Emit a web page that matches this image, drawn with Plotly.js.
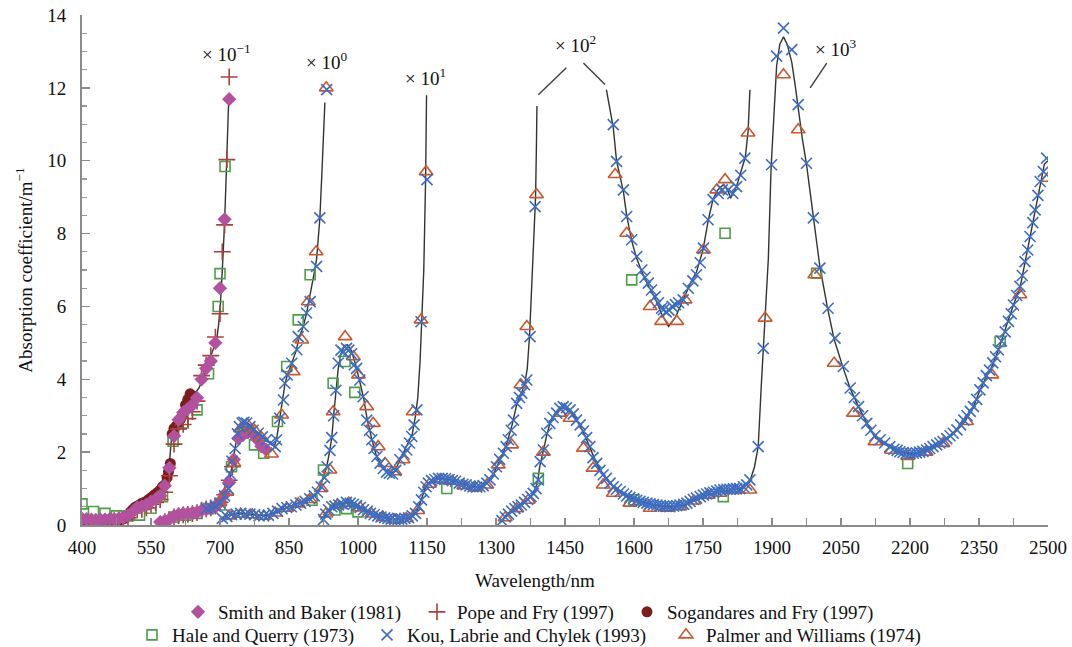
<!DOCTYPE html>
<html><head><meta charset="utf-8">
<script src="https://cdn.plot.ly/plotly-3.0.1.min.js"></script>
<style>html,body{margin:0;padding:0;background:#fff}#chart{width:1072px;height:647px}</style>
</head><body><div id="chart"></div>
<script>
// ---- black reference curve, one piece per scale factor ----
const segA_nm  = [400,420,440,460,480,500,510,520,530,540,550,560,570,580,585,588,591,594,598,605,615,625,635,645,655,665,675,685,693,697,701,705,710,714,717,719];
const segA_val = [0.1,0.08,0.07,0.1,0.15,0.35,0.5,0.6,0.65,0.72,0.8,0.9,1.0,1.12,1.2,1.45,1.85,2.3,2.65,2.8,3.0,3.2,3.42,3.6,3.78,4.1,4.45,4.8,5.1,5.5,6.1,7.0,8.3,9.8,10.9,11.7];
const segB_nm  = [567,580,590,600,620,640,660,680,700,710,718,722,727,733,738,745,752,760,770,780,790,800,810,818,823,830,836,841,846,856,866,872,881,888,896,903,910,917,922,926,928];
const segB_val = [0.05,0.1,0.15,0.2,0.27,0.33,0.4,0.47,0.6,0.8,1.0,1.3,1.7,2.1,2.5,2.75,2.82,2.8,2.7,2.55,2.42,2.33,2.24,2.16,2.35,2.9,3.4,3.85,4.1,4.45,4.8,5.15,5.45,5.8,6.3,6.8,7.3,8.4,9.8,11.0,11.6];
const segC_nm  = [704,720,740,760,780,800,820,840,860,880,900,915,925,932,938,943,947,952,957,963,970,977,985,995,1005,1012,1020,1030,1040,1050,1060,1070,1080,1090,1100,1110,1118,1125,1130,1135,1138,1143,1147,1149];
const segC_val = [0.2,0.28,0.32,0.3,0.27,0.26,0.35,0.46,0.55,0.65,0.75,0.95,1.3,1.6,2.0,2.4,3.0,3.6,4.3,4.7,4.9,4.95,4.8,4.4,3.9,3.5,2.9,2.35,1.9,1.65,1.5,1.42,1.48,1.75,2.0,2.25,2.5,3.0,3.5,4.5,5.6,7.0,9.5,11.8];
const segD1_nm  = [921,930,940,950,965,980,995,1010,1030,1050,1070,1090,1110,1125,1135,1145,1155,1170,1185,1200,1220,1240,1260,1275,1290,1300,1315,1325,1335,1345,1355,1363,1368,1373,1378,1383,1386,1388,1389];
const segD1_val = [0.08,0.3,0.47,0.55,0.6,0.62,0.55,0.45,0.32,0.24,0.17,0.16,0.2,0.3,0.6,0.98,1.15,1.25,1.28,1.25,1.15,1.08,1.04,1.1,1.28,1.55,1.95,2.3,2.75,3.3,3.6,3.9,4.3,5.2,6.5,8.0,9.0,10.5,11.5];
const segD2_nm  = [1540,1547,1555,1562,1570,1577,1584,1595,1605,1617,1630,1645,1660,1675,1690,1700,1710,1725,1736,1750,1762,1772,1782,1795,1805,1810,1823,1835,1842,1848,1852];
const segD2_val = [11.95,11.5,10.9,10.0,9.5,9.15,8.5,7.8,7.35,6.95,6.6,6.25,5.8,5.45,5.7,6.0,6.3,6.7,6.95,7.55,8.4,8.95,9.2,9.35,9.15,8.97,9.3,9.8,10.1,10.8,11.95];
const segE_nm  = [1309,1320,1335,1350,1365,1380,1390,1395,1400,1405,1410,1417,1425,1435,1445,1455,1465,1475,1490,1505,1520,1540,1555,1570,1600,1635,1665,1690,1715,1750,1790,1830,1852,1862,1870,1877,1881,1885,1892,1898,1905,1910,1917,1925,1933,1943,1950,1957,1966,1975,1990,2004,2020,2035,2055,2070,2088,2106,2124,2140,2156,2178,2195,2207,2220,2236,2255,2272,2290,2302,2320,2338,2352,2365,2378,2392,2405,2414,2425,2439,2450,2461,2472,2483,2492,2500];
const segE_val = [0.05,0.25,0.42,0.55,0.68,0.85,1.15,1.6,1.85,2.15,2.45,2.78,2.98,3.12,3.22,3.2,3.08,2.9,2.55,2.1,1.65,1.25,1.05,0.9,0.72,0.57,0.5,0.5,0.58,0.8,0.93,1.0,1.2,1.6,2.15,3.9,4.9,5.7,7.3,9.8,11.5,12.6,13.2,13.4,13.2,12.7,12.1,11.4,10.6,9.9,8.45,7.1,6.0,5.1,4.3,3.75,3.25,2.8,2.4,2.25,2.15,2.02,1.97,1.95,1.98,2.05,2.17,2.3,2.45,2.6,2.85,3.25,3.7,4.05,4.35,4.8,5.3,5.6,6.05,6.5,7.2,7.9,8.65,9.4,9.9,10.0];

// ---- measured series (all scale pieces together) ----
const smithNm  = [400,410,420,430,440,450,460,470,480,490,500,510,520,530,540,550,560,570,580,590,600,610,620,630,640,650,660,670,680,690,700,710,720,
                  570,580,590,600,610,620,630,640,650,660,670,680,690,700,710,720,730,740,750,760,770,780,790,800];
const smithVal = [0.17,0.16,0.15,0.14,0.15,0.15,0.16,0.16,0.18,0.2,0.26,0.36,0.48,0.51,0.56,0.64,0.71,0.8,1.08,1.57,2.44,2.89,3.09,3.19,3.29,3.49,4.0,4.3,4.5,5.0,6.5,8.39,11.69,
                  0.08,0.11,0.16,0.24,0.29,0.31,0.32,0.33,0.35,0.4,0.43,0.45,0.5,0.65,0.84,1.17,1.8,2.38,2.47,2.55,2.51,2.36,2.16,2.07];
const popeNm   = [400,410,420,430,440,450,460,470,480,490,500,510,520,530,540,550,560,570,580,590,600,610,620,630,640,650,660,670,680,690,700,705,710,715,720,
                  580,590,600,610,620,630,640,650,660,670,680,690,700,710,720,727];
const popeVal  = [0.07,0.05,0.05,0.05,0.06,0.09,0.1,0.11,0.13,0.15,0.2,0.33,0.41,0.43,0.47,0.57,0.62,0.7,0.9,1.35,2.22,2.64,2.76,2.92,3.11,3.4,4.1,4.39,4.65,5.16,5.8,7.5,8.24,10.03,12.3,
                  0.09,0.14,0.22,0.26,0.28,0.29,0.31,0.34,0.41,0.44,0.47,0.52,0.62,0.83,1.23,1.6];
const sogNm    = [400,405,410,415,420,425,430,435,440,445,450,455,460,465,470,475,480,485,490,495,500,505,510,515,520,525,530,535,540,545,550,555,560,565,570,575,580,585,588,592,596,600,605,610,615,620,625,630,635,640];
const sogVal   = [0.1,0.08,0.07,0.06,0.06,0.05,0.05,0.06,0.06,0.07,0.08,0.09,0.1,0.1,0.11,0.12,0.14,0.15,0.17,0.2,0.26,0.35,0.42,0.48,0.52,0.55,0.6,0.62,0.65,0.7,0.75,0.8,0.85,0.9,0.96,1.05,1.1,1.3,1.46,1.69,2.5,2.65,2.72,2.8,2.93,3.07,3.3,3.45,3.6,3.55];
const haleNm   = [400,425,450,475,500,525,550,575,598,620,650,675,696,700,711,
                  600,625,650,675,700,725,750,775,795,825,845,870,896,
                  900,925,946,972,993,
                  950,975,1000,1193,1595,1798,
                  1392,1600,1794,1997,2195,2396];
const haleVal  = [0.58,0.37,0.32,0.25,0.25,0.27,0.46,0.78,2.3,2.8,3.16,4.15,6.0,6.9,9.84,
                  0.22,0.27,0.32,0.45,0.55,1.6,2.52,2.2,1.97,2.84,4.35,5.63,6.87,
                  0.68,1.51,3.89,4.49,3.64,
                  0.41,0.45,0.36,1.0,6.73,8.01,
                  1.28,0.69,0.78,6.91,1.69,5.04];
const kouNm    = [670,680,690,700,710,718,722,726,733,738,742,748,752,758,765,772,783,792,801,810,820,823,830,838,841,846,856,867,870,881,888,896,910,917,932,
                  705,715,725,735,745,755,765,775,785,795,805,815,825,835,845,855,865,875,885,895,905,912,920,927,933,939,943,947,952,957,963,968,975,980,986,992,997,1004,1011,1019,1025,1030,1035,1041,1048,1055,1062,1068,1075,1082,1091,1100,1106,1112,1117,1122,1128,1137,1150,
                  925,930,936,943,950,958,966,975,983,990,997,1005,1012,1020,1027,1035,1043,1050,1058,1065,1072,1080,1088,1095,1102,1110,1118,1125,1132,1138,1143,1148,1153,1160,1167,1175,1183,1190,1198,1205,1212,1220,1228,1235,1243,1250,1258,1265,1272,1280,1287,1294,1301,1308,1316,1322,1327,1333,1338,1345,1351,1356,1362,1367,1374,1385,
                  1555,1562,1577,1584,1595,1606,1617,1624,1631,1638,1646,1653,1660,1664,1670,1676,1683,1690,1697,1707,1718,1728,1736,1744,1751,1761,1772,1783,1792,1805,1815,1823,1832,1841,
                  1313,1320,1327,1334,1341,1348,1355,1362,1369,1376,1381,1387,1392,1396,1403,1410,1417,1424,1432,1439,1446,1453,1461,1468,1475,1483,1490,1497,1504,1511,1519,1526,1533,1540,1548,1555,1562,1570,1577,1584,1591,1599,1606,1613,1620,1628,1635,1642,1650,1657,1664,1671,1678,1686,1693,1700,1708,1715,1722,1729,1736,1744,1751,1758,1765,1773,1780,1787,1795,1802,1809,1816,1823,1830,1838,1845,1852,1870,1881,1899,1910,1925,1943,1957,1975,1990,2004,2022,2037,2055,2070,2079,2088,2097,2106,2115,2124,2135,2145,2156,2165,2172,2178,2185,2192,2200,2207,2214,2221,2228,2236,2243,2250,2258,2265,2272,2280,2287,2294,2302,2310,2317,2324,2331,2338,2345,2352,2359,2366,2373,2380,2386,2392,2399,2407,2414,2420,2425,2432,2439,2444,2450,2456,2461,2467,2472,2478,2483,2490,2497];
const kouVal   = [0.45,0.48,0.52,0.6,0.8,1.0,1.4,1.75,2.1,2.5,2.7,2.8,2.82,2.8,2.7,2.6,2.52,2.42,2.34,2.25,2.15,2.34,2.93,3.43,3.89,4.12,4.44,4.81,5.17,5.45,5.82,6.13,7.1,8.43,11.95,
                  0.18,0.23,0.28,0.3,0.32,0.3,0.3,0.28,0.25,0.25,0.27,0.32,0.38,0.45,0.48,0.5,0.55,0.6,0.65,0.72,0.8,0.9,1.05,1.3,1.6,2.05,2.4,3.0,3.7,4.44,4.8,4.75,4.85,4.8,4.7,4.4,4.3,3.98,3.52,2.88,2.6,2.34,2.1,1.88,1.7,1.55,1.45,1.42,1.4,1.5,1.79,1.95,2.06,2.25,2.43,2.75,3.16,5.58,9.48,
                  0.15,0.3,0.42,0.5,0.52,0.55,0.58,0.62,0.6,0.57,0.53,0.48,0.42,0.38,0.32,0.28,0.25,0.22,0.2,0.18,0.16,0.15,0.16,0.16,0.18,0.2,0.25,0.32,0.5,0.69,0.9,1.05,1.15,1.22,1.25,1.28,1.28,1.27,1.25,1.22,1.2,1.15,1.12,1.1,1.07,1.05,1.04,1.05,1.08,1.15,1.24,1.4,1.6,1.8,1.97,2.15,2.34,2.6,2.88,3.34,3.5,3.62,3.85,3.98,5.17,8.74,
                  10.99,9.98,9.2,8.47,7.83,7.37,7.0,6.8,6.64,6.45,6.27,6.1,5.95,5.91,5.85,5.9,6.0,6.05,6.1,6.18,6.5,6.7,6.87,7.2,7.6,8.38,8.93,9.1,9.2,9.2,9.1,9.29,9.6,10.07,
                  0.12,0.22,0.3,0.38,0.45,0.5,0.55,0.62,0.7,0.78,0.87,1.0,1.24,1.74,2.06,2.52,2.79,2.95,3.07,3.2,3.25,3.22,3.16,3.05,2.88,2.75,2.58,2.4,2.15,1.85,1.69,1.5,1.38,1.28,1.15,1.05,0.98,0.92,0.85,0.8,0.76,0.72,0.68,0.65,0.62,0.6,0.58,0.56,0.55,0.53,0.52,0.51,0.5,0.52,0.53,0.55,0.57,0.6,0.65,0.7,0.74,0.78,0.82,0.85,0.88,0.9,0.93,0.96,0.97,0.98,0.98,0.99,1.0,1.0,1.05,1.1,1.24,2.15,4.85,9.89,12.87,13.64,13.05,11.54,9.93,8.43,7.05,5.95,5.13,4.35,3.76,3.5,3.25,3.0,2.79,2.6,2.45,2.34,2.25,2.15,2.08,2.05,2.01,1.99,1.97,1.96,1.97,1.98,2.0,2.02,2.06,2.1,2.15,2.2,2.25,2.29,2.37,2.45,2.52,2.61,2.75,2.88,3.0,3.12,3.25,3.45,3.71,3.9,4.1,4.25,4.45,4.62,4.81,5.05,5.3,5.59,5.8,6.04,6.3,6.55,6.85,7.23,7.55,7.92,8.3,8.65,9.05,9.43,9.7,10.07];
const palmerNm  = [700,715,730,745,760,775,790,812,834,859,878,892,909,931,
                   720,745,770,795,820,845,870,895,920,939,946,972,990,1001,1019,1033,1044,1059,1080,1098,1120,1137,1148,
                   930,955,980,1005,1030,1055,1080,1105,1130,1155,1180,1205,1230,1255,1280,1305,1334,1354,1367,1388,
                   1559,1584,1635,1660,1693,1711,1751,1780,1798,1848,
                   1320,1345,1370,1403,1439,1461,1490,1511,1533,1555,1591,1635,1671,1700,1730,1760,1787,1820,1852,1885,1925,1957,1993,2035,2077,2124,2160,2195,2235,2272,2323,2378,2439,2500];
const palmerVal = [0.62,0.9,1.7,2.65,2.75,2.6,2.4,1.95,3.02,4.21,5.08,6.13,7.5,12.0,
                   0.25,0.3,0.28,0.24,0.33,0.46,0.58,0.7,1.0,1.51,3.11,5.17,4.62,4.12,3.25,2.79,2.15,1.69,1.46,1.79,3.11,5.63,9.7,
                   0.3,0.55,0.6,0.47,0.3,0.2,0.14,0.18,0.4,1.12,1.25,1.2,1.08,1.02,1.1,1.65,2.2,3.85,5.45,9.07,
                   9.62,8.01,6.0,5.59,5.59,6.18,7.55,9.2,9.48,10.76,
                   0.2,0.45,0.68,2.0,3.07,2.93,2.11,1.56,1.1,0.87,0.6,0.46,0.46,0.5,0.66,0.82,0.87,0.95,0.96,5.68,12.36,10.85,6.87,4.44,3.07,2.29,2.05,1.88,2.0,2.24,2.84,4.12,6.32,9.52];

// ---- scale-factor labels ----
const scaleLabels = ['× 10<sup>−1</sup>','× 10<sup>0</sup>','× 10<sup>1</sup>','× 10<sup>2</sup>','× 10<sup>3</sup>'];
const scaleNm  = [714,932,1146,1473,2039];
const scaleVal = [12.95,12.75,12.3,13.2,13.1];

const FONT = '"Liberation Serif", "Times New Roman", serif';
const FS = 19;
const lineStyle = {color:'#333333', width:1.4};
const segs = [[segA_nm,segA_val],[segB_nm,segB_val],[segC_nm,segC_val],[segD1_nm,segD1_val],[segD2_nm,segD2_val],[segE_nm,segE_val]];
const traces = segs.map(s => ({x:s[0], y:s[1], type:'scatter', mode:'lines', line:lineStyle, showlegend:false, hoverinfo:'skip'}));

function mk(name, xs, ys, symbol, color, size, legend, filled){
  return {x:xs, y:ys, type:'scatter', mode:'markers', name:name, legend:legend,
    marker:{symbol:symbol, size:size, color:color, line:{color:color, width: filled?0:1.6}}};
}
traces.push(mk('Sogandares and Fry (1997)', sogNm, sogVal, 'circle', '#7a1d1f', 11, 'legend3', true));
traces.push(mk('Hale and Querry (1973)', haleNm, haleVal, 'square-open', '#4e9e47', 10, 'legend4', false));
traces.push(mk('Pope and Fry (1997)', popeNm, popeVal, 'cross-thin-open', '#a8403c', 12, 'legend2', false));
traces.push(mk('Smith and Baker (1981)', smithNm, smithVal, 'diamond', '#b2529f', 11, 'legend', true));
traces.push(mk('Palmer and Williams (1974)', palmerNm, palmerVal, 'triangle-up-open', '#c9582e', 12, 'legend6', false));
traces.push(mk('Kou, Labrie and Chylek (1993)', kouNm, kouVal, 'x-thin-open', '#3d6dc0', 11, 'legend5', false));

const annotations = scaleLabels.map((t,i)=>({x:scaleNm[i], y:scaleVal[i], xref:'x', yref:'y', text:t, showarrow:false, font:{family:FONT, size:FS, color:'#111'}}));
annotations.push({x:0.469, y:-0.108, xref:'paper', yref:'paper', xanchor:'center', yanchor:'middle', text:'Wavelength/nm', showarrow:false, font:{family:FONT, size:FS, color:'#111'}});

const shapes = [
  {type:'line', xref:'x', yref:'y', x0:1392, y0:11.81, x1:1453, y1:12.55, line:{color:'#444', width:1.5}},
  {type:'line', xref:'x', yref:'y', x0:1490, y0:12.68, x1:1537, y1:12.09, line:{color:'#444', width:1.5}},
  {type:'line', xref:'x', yref:'y', x0:2019, y0:12.68, x1:1983, y1:12.0, line:{color:'#444', width:1.5}}
];

function leg(textStartPx, rowY){
  return {orientation:'h', x:(textStartPx-40-82)/966, xanchor:'left', y:rowY, yanchor:'middle',
          font:{family:FONT, size:FS, color:'#111'}, bgcolor:'rgba(0,0,0,0)', borderwidth:0};
}
const ROW1 = -0.1706, ROW2 = -0.2157;

const layout = {
  width:1072, height:647, paper_bgcolor:'#fff', plot_bgcolor:'#fff',
  margin:{l:82, r:24, t:15, b:122, autoexpand:false},
  font:{family:FONT, size:FS, color:'#111'},
  xaxis:{range:[400,2500], tick0:400, dtick:150, showgrid:false, zeroline:false,
    showline:true, linecolor:'#8a8a8a', linewidth:2, ticks:'inside', ticklen:7, tickcolor:'#8a8a8a', tickwidth:1.5,
    ticklabelstandoff:4, tickfont:{family:FONT, size:FS, color:'#111'},
    minor:{dtick:75, tick0:400, ticks:'inside', ticklen:7, tickcolor:'#8a8a8a', tickwidth:1.5}},
  yaxis:{range:[0,14], dtick:2, showgrid:false, zeroline:false,
    showline:true, linecolor:'#8a8a8a', linewidth:2, ticks:'inside', ticklen:8, tickcolor:'#8a8a8a', tickwidth:1.5,
    ticklabelstandoff:10, tickfont:{family:FONT, size:FS, color:'#111'},
    minor:{dtick:0.5, ticks:'inside', ticklen:5, tickcolor:'#9a9a9a', tickwidth:1.2},
    title:{text:'Absorption coefficient/m<sup>−1</sup>', font:{family:FONT, size:FS, color:'#111'}, standoff:10}},
  legend:leg(218, ROW1), legend2:leg(457, ROW1), legend3:leg(667, ROW1),
  legend4:leg(172, ROW2), legend5:leg(407, ROW2), legend6:leg(706, ROW2),
  annotations:annotations, shapes:shapes
};
Plotly.newPlot('chart', traces, layout, {displayModeBar:false, staticPlot:true});
</script>
</body></html>
